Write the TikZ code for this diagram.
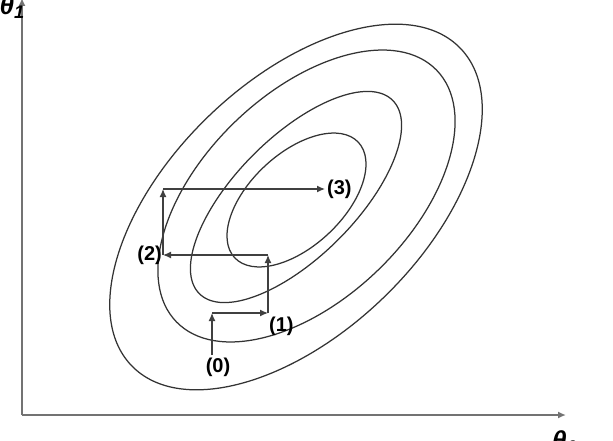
\documentclass[tikz,border=0pt]{standalone}
\usepackage{fontspec}
\setmainfont{Liberation Sans}
\usetikzlibrary{arrows.meta,positioning}

\begin{document}
\begin{tikzpicture}[
    x=1pt, y=1pt,
    contour/.style={draw=black!80, line width=1.25pt},
    axis/.style={->, draw=black!55, line width=1.6pt},
    stepline/.style={->, draw=black!75, line width=1.2pt},
    steplabel/.style={font=\fontsize{20}{22}\selectfont\bfseries, inner sep=0pt},
    axislabel/.style={font=\fontsize{26}{28}\selectfont\bfseries\itshape, inner sep=0pt},
    >={Latex[length=8pt,width=7pt]},
]
    \clip (0,0) rectangle (613,440);

    % Axes
    \coordinate (origin) at (22,25);
    \coordinate (ytop) at (22,442);
    \coordinate (xend) at (566,25);
    \draw[axis] (origin) -- (ytop);
    \draw[axis] (origin) -- (xend);
    \node[axislabel, anchor=base east] (theta1) at (25,425) {θ\textsubscript{1}};
    \node[axislabel, anchor=north west] (theta0) at (552,10) {θ\textsubscript{0}};

    % Cost contours
    \draw[contour] (296.5,240) ellipse [x radius=84.6pt, y radius=46.4pt, rotate=43];
    \draw[contour] (296,243) ellipse [x radius=136.7pt, y radius=60pt, rotate=45];
    \draw[contour] (306.5,244) ellipse [x radius=181pt, y radius=103pt, rotate=44];
    \draw[contour] (296,233) ellipse [x radius=228.5pt, y radius=126pt, rotate=44];

    % Descent steps
    \coordinate (p0) at (212,85);
    \coordinate (c0) at (212,127);
    \coordinate (p1) at (268,127);
    \coordinate (c1) at (268,185);
    \coordinate (p2) at (163,185);
    \coordinate (c2) at (163,251);
    \coordinate (p3) at (325,251);

    \draw[stepline] (p0) -- (c0);
    \draw[stepline] (c0) -- (p1);
    \draw[stepline] (p1) -- (c1);
    \draw[stepline] (c1) -- (p2);
    \draw[stepline] (p2) -- (c2);
    \draw[stepline] (c2) -- (p3);

    \node[steplabel, below=3pt of p0, xshift=6pt] (l0) {(0)};
    \node[steplabel, below right=4pt and 1pt of p1] (l1) {(1)};
    \node[steplabel, left=1pt of p2] (l2) {(2)};
    \node[steplabel, right=2pt of p3] (l3) {(3)};
\end{tikzpicture}
\end{document}
